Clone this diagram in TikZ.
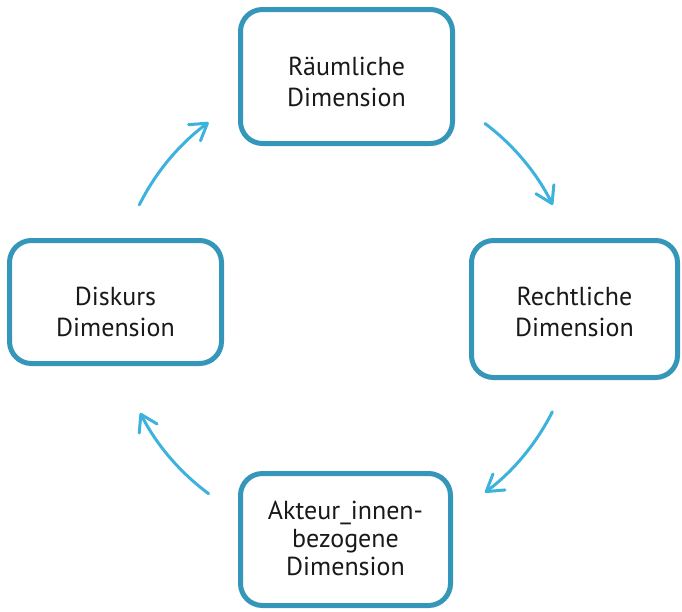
\documentclass[tikz,border=0pt]{standalone}
\usepackage{fontspec}
\setmainfont{PT Sans}
\usetikzlibrary{arrows.meta}
\definecolor{boxblue}{RGB}{52,150,185}
\definecolor{arrowblue}{RGB}{60,178,220}

\begin{document}
\begin{tikzpicture}[x=1pt, y=1pt,
    dimbox/.style={draw=boxblue, line width=5pt, rounded corners=22pt, align=center,
      text=black!90, font=\fontsize{26}{31}\selectfont, inner sep=0pt, text depth=0pt},
    kreis/.style={arrowblue, line width=3pt, line cap=round,
      -{Straight Barb[length=16pt, width=20pt, round]}}]
    \useasboundingbox (0,0) rectangle (682,-611);

    % the four dimensions
    \node[dimbox, text height=59pt, minimum width=212pt, minimum height=134pt] (raum) at (346.5,-76.5) {Räumliche\\Dimension};
    \node[dimbox, text height=54pt, minimum width=206pt, minimum height=137pt] (recht) at (574.5,-309) {Rechtliche\\Dimension};
    \node[dimbox, text height=71pt, minimum width=210pt, minimum height=132pt,
      font=\fontsize{26}{28}\selectfont] (akteur) at (345.5,-539.5) {Akteur\_innen-\\bezogene\\Dimension};
    \node[dimbox, text height=68pt, minimum width=212pt, minimum height=123pt] (diskurs) at (115.5,-302) {Diskurs\\Dimension};

    % arrows on a circle round the middle
    \coordinate (mitte) at (346,-308);
    \draw[kreis] (mitte) ++(53:231) arc[start angle=53, end angle=26.5, radius=231];
    \draw[kreis] (mitte) ++(-26.7:231) arc[start angle=-26.7, end angle=-53, radius=231];
    \draw[kreis] (mitte) ++(-126.5:231) arc[start angle=-126.5, end angle=-153, radius=231];
    \draw[kreis] (mitte) ++(153.5:231) arc[start angle=153.5, end angle=126.5, radius=231];
\end{tikzpicture}
\end{document}
